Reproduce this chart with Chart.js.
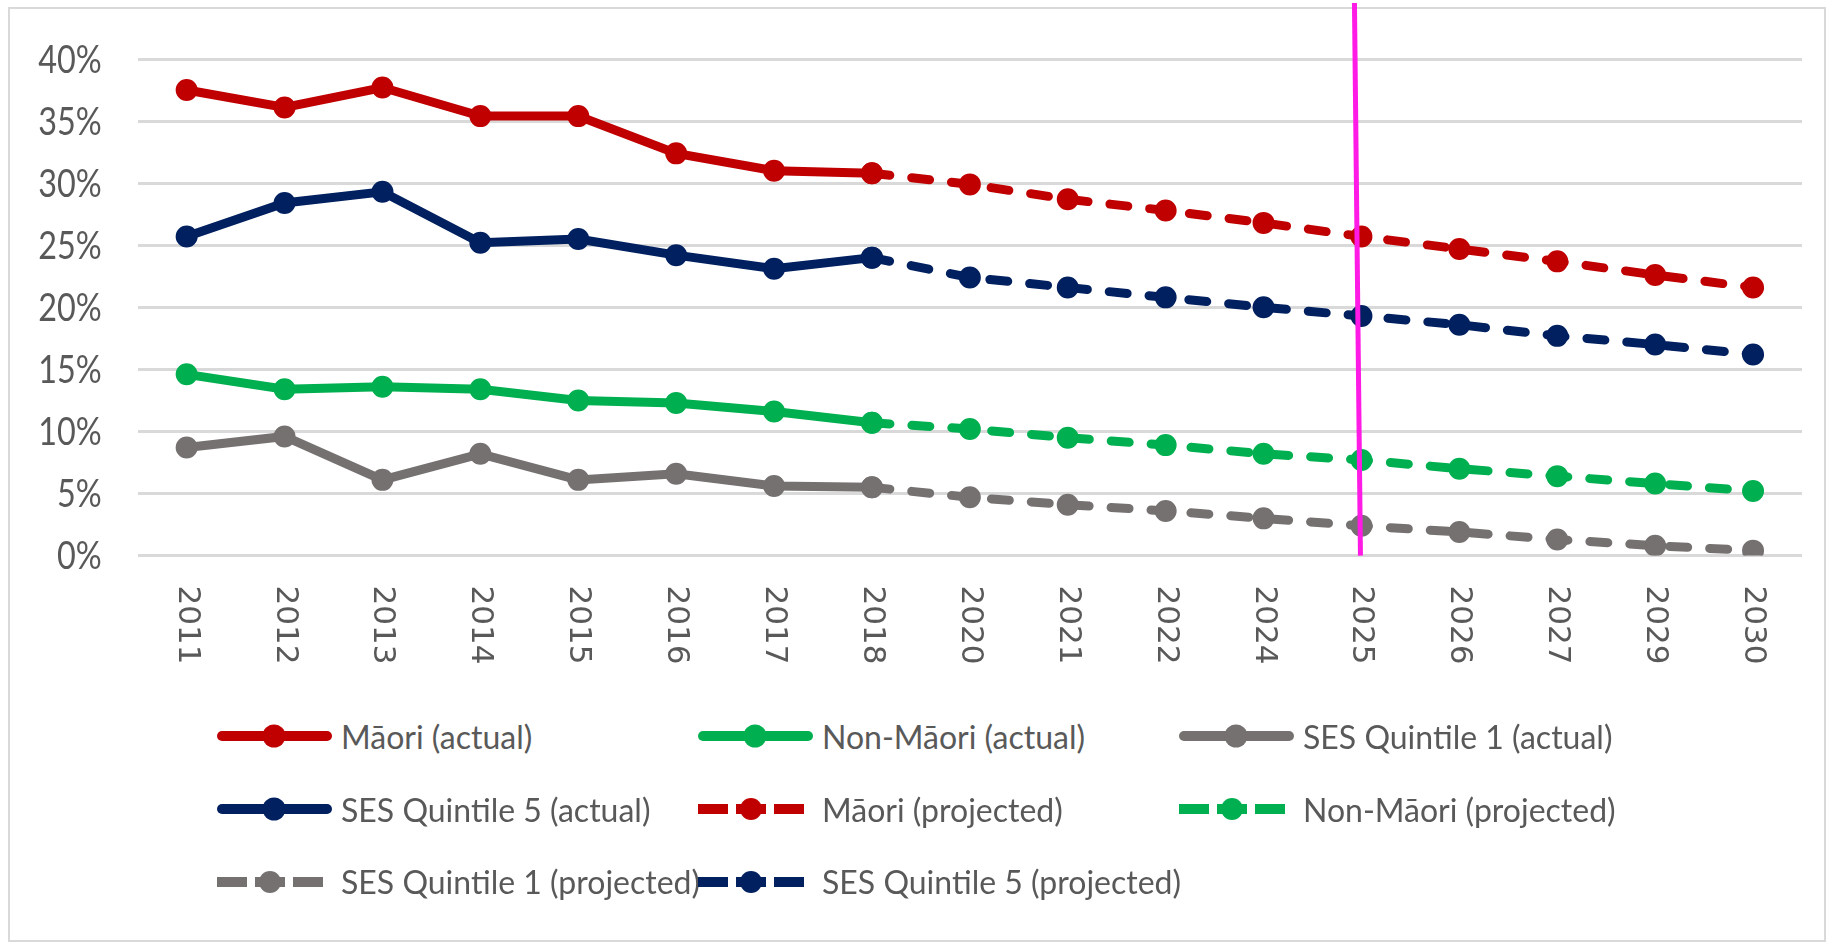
<!DOCTYPE html>
<html lang="en">
<head>
    <meta charset="UTF-8">
    <title>Māori / SES projections</title>
    <script src="https://cdn.jsdelivr.net/npm/chart.js"></script>
    <style>
        body {
            margin: 0;
            background: #fff;
            font-family: Lato, 'Liberation Sans', Arial, sans-serif;
        }

        .frame {
            position: absolute;
            left: 8px;
            top: 7px;
            width: 1814px;
            height: 931px;
            border: 2px solid #d9d9d9;
        }

        #chart {
            position: absolute;
            left: 0;
            top: 0;
        }

        .legend {
            position: absolute;
            left: 217px;
            top: 700px;
            display: grid;
            grid-template-columns: 481px 481px 481px;
            grid-auto-rows: 72.7px;
        }

        .legend-item {
            display: flex;
            align-items: center;
            font-size: 32px;
            color: #595959;
            white-space: nowrap;
        }

        .legend-item canvas {
            margin-right: 9px;
        }
    </style>
</head>
<body>
    <div class="frame"></div>
    <canvas id="chart" width="1827" height="680"></canvas>
    <div class="legend" id="legend"></div>

    <script>
        const years = ['2011', '2012', '2013', '2014', '2015', '2016', '2017', '2018',
            '2020', '2021', '2022', '2024', '2025', '2026', '2027', '2029', '2030'];

        // actual: 2011-2018
        const maoriActual = [37.5, 36.1, 37.7, 35.4, 35.4, 32.4, 31.0, 30.8];
        const nonMaoriActual = [14.6, 13.4, 13.6, 13.4, 12.5, 12.3, 11.6, 10.7];
        const q1Actual = [8.7, 9.6, 6.1, 8.2, 6.1, 6.6, 5.6, 5.5];
        const q5Actual = [25.7, 28.4, 29.3, 25.2, 25.5, 24.2, 23.1, 24.0];

        // projected: 2018-2030
        const maoriProjected = [30.8, 29.9, 28.7, 27.8, 26.8, 25.7, 24.7, 23.7, 22.6, 21.6];
        const nonMaoriProjected = [10.7, 10.2, 9.5, 8.9, 8.2, 7.7, 7.0, 6.4, 5.8, 5.2];
        const q1Projected = [5.5, 4.7, 4.1, 3.6, 3.0, 2.4, 1.9, 1.3, 0.8, 0.4];
        const q5Projected = [24.0, 22.4, 21.6, 20.8, 20.0, 19.3, 18.6, 17.7, 17.0, 16.2];

        const yTicks = [0, 5, 10, 15, 20, 25, 30, 35, 40];
        const markerYear = '2025';

        const RED = '#C00000', GREEN = '#00B050', GREY = '#767171', NAVY = '#002060';
        const TEXT = '#595959';

        function actual(values) {
            return values.concat(new Array(years.length - values.length).fill(null));
        }
        function projected(values) {
            return new Array(years.length - values.length).fill(null).concat(values);
        }

        function series(label, data, color, dashed) {
            return {
                label: label,
                data: data,
                borderColor: color,
                backgroundColor: color,
                borderWidth: 9,
                borderDash: dashed ? [18, 22] : [],
                borderCapStyle: dashed ? 'round' : 'butt',
                pointRadius: 10,
                pointHoverRadius: 10,
                pointBorderWidth: 2,
                spanGaps: false,
                tension: 0
            };
        }

        const datasets = [
            series('Māori (actual)', actual(maoriActual), RED, false),
            series('Non-Māori (actual)', actual(nonMaoriActual), GREEN, false),
            series('SES Quintile 1 (actual)', actual(q1Actual), GREY, false),
            series('SES Quintile 5 (actual)', actual(q5Actual), NAVY, false),
            series('Māori (projected)', projected(maoriProjected), RED, true),
            series('Non-Māori (projected)', projected(nonMaoriProjected), GREEN, true),
            series('SES Quintile 1 (projected)', projected(q1Projected), GREY, true),
            series('SES Quintile 5 (projected)', projected(q5Projected), NAVY, true)
        ];

        // x labels run top-to-bottom and y labels are condensed, so both are drawn here
        const axisLabels = {
            id: 'axisLabels',
            afterDraw(chart) {
                const ctx = chart.ctx;
                const x = chart.scales.x;
                const y = chart.scales.y;
                ctx.save();
                ctx.fillStyle = TEXT;

                ctx.font = '31px "DejaVu Sans"';
                ctx.textAlign = 'left';
                ctx.textBaseline = 'middle';
                years.forEach((yr, i) => {
                    ctx.save();
                    ctx.translate(x.getPixelForValue(i), chart.chartArea.bottom + 30);
                    ctx.rotate(Math.PI / 2);
                    ctx.fillText(yr, 0, 0);
                    ctx.restore();
                });

                ctx.font = '39px Lato';
                ctx.textAlign = 'right';
                yTicks.forEach(v => {
                    ctx.save();
                    ctx.translate(chart.chartArea.left - 36, y.getPixelForValue(v) + 1);
                    ctx.scale(0.83, 1);
                    ctx.fillText(v + '%', 0, 0);
                    ctx.restore();
                });
                ctx.restore();
            }
        };

        // magenta marker line at 2025
        const markerLine = {
            id: 'markerLine',
            afterDatasetsDraw(chart) {
                const ctx = chart.ctx;
                const px = chart.scales.x.getPixelForValue(years.indexOf(markerYear));
                ctx.save();
                ctx.strokeStyle = '#FF1AE6';
                ctx.lineWidth = 5;
                ctx.beginPath();
                ctx.moveTo(px - 7, 3);
                ctx.lineTo(px - 1, chart.chartArea.bottom);
                ctx.stroke();
                ctx.restore();
            }
        };

        const chart = new Chart(document.getElementById('chart'), {
            type: 'line',
            data: { labels: years, datasets: datasets },
            options: {
                responsive: false,
                animation: false,
                layout: { padding: { top: 59, right: 25, left: 0, bottom: 0 } },
                plugins: {
                    legend: { display: false },
                    tooltip: { enabled: false }
                },
                scales: {
                    x: {
                        offset: true,
                        grid: { display: false },
                        border: { display: false },
                        ticks: { display: false },
                        afterFit: s => { s.height = 124.4; }
                    },
                    y: {
                        min: 0,
                        max: 40,
                        afterBuildTicks: s => { s.ticks = yTicks.map(v => ({ value: v })); },
                        afterFit: s => { s.width = 137.7; },
                        grid: { color: '#D9D9D9', lineWidth: 3, drawTicks: false },
                        border: { display: false },
                        ticks: { display: false }
                    }
                }
            },
            plugins: [axisLabels, markerLine]
        });

        // html legend in a 3-column grid
        const legendEl = document.getElementById('legend');
        datasets.forEach(ds => {
            const item = document.createElement('div');
            item.className = 'legend-item';
            const c = document.createElement('canvas');
            c.width = 115;
            c.height = 30;
            const g = c.getContext('2d');
            g.strokeStyle = ds.borderColor;
            g.fillStyle = ds.borderColor;
            g.lineWidth = 10;
            if (ds.borderDash.length) {
                g.setLineDash([30, 8]);
                g.lineCap = 'butt';
                g.beginPath();
                g.moveTo(0, 15);
                g.lineTo(106, 15);
                g.stroke();
                g.beginPath();
                g.arc(53, 15, 11, 0, Math.PI * 2);
                g.fill();
            } else {
                g.lineCap = 'round';
                g.beginPath();
                g.moveTo(5, 15);
                g.lineTo(110, 15);
                g.stroke();
                g.beginPath();
                g.arc(57, 15, 11.5, 0, Math.PI * 2);
                g.fill();
            }
            item.appendChild(c);
            const span = document.createElement('span');
            span.textContent = ds.label;
            item.appendChild(span);
            legendEl.appendChild(item);
        });
    </script>
</body>
</html>
